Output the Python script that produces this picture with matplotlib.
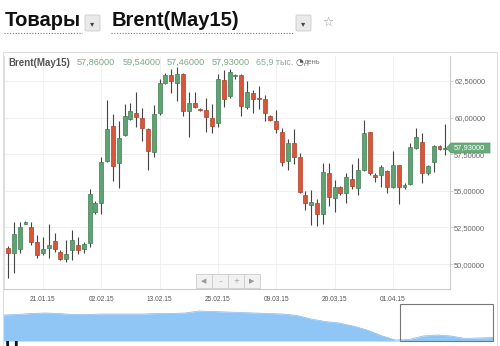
import matplotlib
matplotlib.use("Agg")
import matplotlib.pyplot as plt
from matplotlib.patches import Rectangle, Polygon, FancyBboxPatch
from matplotlib.lines import Line2D

plt.rcParams['font.family'] = ['Liberation Sans', 'DejaVu Sans']

# ---- data ----
opens  = [51.10, 50.76, 51.03, 52.74, 52.53, 51.51, 50.79, 51.10, 51.58, 50.83,
          50.35, 50.96, 51.31, 51.03, 51.44, 53.56, 54.17, 57.04, 59.43, 56.90,
          58.81, 59.91, 60.32, 59.97, 59.22, 57.65, 60.32, 62.36, 62.91, 62.36,
          62.98, 60.45, 61.00, 60.62, 60.52, 59.97, 59.63, 62.57, 61.48, 62.85,
          62.91, 60.73, 61.68, 61.27, 61.27, 60.11, 59.77, 59.02, 57.04, 58.27,
          57.31, 54.72, 54.04, 54.17, 53.42, 56.22, 54.51, 55.26, 54.85, 55.81,
          55.20, 56.42, 59.02, 56.06, 56.08, 56.36, 55.26, 56.77, 55.26, 55.47,
          57.93, 58.34, 56.22, 56.97, 58.06, 57.86]
highs  = [51.25, 52.88, 52.88, 52.92, 52.88, 51.99, 51.85, 52.74, 52.12, 50.96,
          51.65, 52.33, 51.85, 51.51, 55.13, 54.31, 57.31, 61.20, 60.25, 59.77,
          60.93, 61.00, 61.75, 60.66, 59.30, 60.86, 62.64, 63.05, 63.32, 63.46,
          63.05, 61.75, 61.75, 60.66, 61.34, 60.93, 62.98, 63.25, 63.32, 62.98,
          62.95, 62.50, 61.89, 62.16, 61.54, 60.18, 60.52, 59.29, 58.54, 59.22,
          57.59, 54.99, 55.06, 54.45, 56.90, 56.90, 55.74, 55.33, 56.22, 56.83,
          57.24, 59.84, 59.05, 56.22, 56.77, 56.40, 57.72, 56.80, 55.54, 58.27,
          59.29, 58.95, 56.75, 58.13, 58.10, 59.54]
lows   = [49.05, 49.39, 50.76, 52.72, 51.31, 50.42, 50.62, 50.42, 50.83, 50.28,
          50.14, 50.28, 50.69, 50.79, 51.17, 53.42, 53.42, 56.97, 55.67, 55.20,
          58.75, 59.85, 59.36, 58.40, 56.42, 57.31, 60.18, 62.30, 61.68, 61.13,
          60.11, 58.68, 60.66, 60.45, 59.02, 58.95, 59.36, 60.73, 61.34, 62.64,
          60.11, 60.59, 60.32, 60.59, 59.77, 59.77, 58.95, 56.70, 56.42, 56.83,
          54.85, 53.69, 52.67, 52.60, 52.74, 53.97, 53.56, 54.72, 54.17, 55.13,
          54.72, 56.36, 56.08, 55.61, 55.26, 54.85, 55.20, 54.10, 55.13, 55.40,
          57.86, 55.54, 56.08, 56.29, 57.80, 57.46]
closes = [50.76, 52.06, 52.53, 52.88, 51.51, 50.62, 51.03, 51.31, 51.03, 50.35,
          50.69, 51.65, 50.96, 51.37, 54.79, 54.17, 56.97, 59.22, 56.70, 58.61,
          60.11, 60.45, 60.04, 59.29, 57.72, 60.25, 62.36, 62.91, 62.50, 62.98,
          60.45, 61.00, 60.73, 60.55, 60.04, 59.43, 62.64, 61.27, 63.11, 62.91,
          60.79, 61.75, 61.27, 61.25, 60.32, 59.84, 59.22, 56.97, 58.27, 57.31,
          54.92, 54.17, 54.24, 53.42, 56.29, 54.58, 55.26, 54.85, 55.95, 55.33,
          56.42, 58.95, 56.22, 55.98, 56.63, 55.26, 56.77, 55.26, 55.40, 58.00,
          58.68, 56.22, 56.70, 58.06, 57.86, 57.93]

date_labels = ['21.01.15', '02.02.15', '13.02.15', '25.02.15', '09.03.15', '20.03.15', '01.04.15']
date_tick_idx = [6, 16, 26, 36, 46, 56, 66]
price_ticks = [50.0, 52.5, 55.0, 57.5, 60.0, 62.5]
last_price = 57.93
header_values = ['57,86000', '59,54000', '57,46000', '57,93000']
header_volume = '65,9 тыс.'

# navigator (overview) series, read from the strip at the bottom
nav_values = [26, 26.5, 27.5, 28, 27.5, 26.5, 26.5, 27, 27, 27, 27, 27.5, 27.5, 28,
              30, 29.5, 29, 28.5, 28, 27.5, 27, 25.5, 22, 19.5, 18, 15, 11, 5.5,
              1, 1.5, 5, 6, 5, 2.5, 3, 3.5]

# ---- figure ----
W, H = 500, 346
fig = plt.figure(figsize=(5.0, 3.46), dpi=100)
fig.patch.set_facecolor('white')

def fx(x):
    return x / W

def fy(y):
    return 1 - y / H

GREEN = '#5fa273'
GREEN_E = '#3f7d52'
RED = '#d8573b'
RED_E = '#a9422b'

# Title row
fig.text(fx(5), fy(21), 'Товары', fontsize=14.5, fontweight='bold', color='#111111', va='center', ha='left')
fig.text(fx(112), fy(21), 'Brent(May15)', fontsize=14.5, fontweight='bold', color='#111111', va='center', ha='left')
for x0, x1 in [(4, 82), (111, 293)]:
    fig.add_artist(Line2D([fx(x0), fx(x1)], [fy(33), fy(33)], transform=fig.transFigure,
                          color='#777777', lw=0.8, linestyle=(0, (1, 1.5))))
for bx in [85, 296]:
    fig.add_artist(FancyBboxPatch((fx(bx), fy(31)), 15 / W, 16 / H, boxstyle='round,pad=0,rounding_size=0.003',
                                  transform=fig.transFigure, facecolor='#e9e9e9', edgecolor='#cccccc', lw=0.6))
    fig.text(fx(bx + 7.5), fy(23.5), '▾', fontsize=6, color='#444444', ha='center', va='center',
             family=['DejaVu Sans'])
fig.text(fx(328), fy(22), '☆', fontsize=9, color='#999999', ha='center', va='center', family=['DejaVu Sans'])

# Panel border
fig.add_artist(Rectangle((fx(3), fy(350)), 494 / W, 298 / H, transform=fig.transFigure,
                         fill=False, edgecolor='#dddddd', lw=0.8))

# Main axes
ax = fig.add_axes([fx(4), fy(289), 446 / W, 233 / H])
n = len(opens)
idx = list(range(n))
colors = [GREEN if c >= o else RED for o, c in zip(opens, closes)]
edges = [GREEN_E if c >= o else RED_E for o, c in zip(opens, closes)]
ax.vlines(idx, lows, highs, color='#444444', lw=0.8, zorder=2)
bottoms = [min(o, c) for o, c in zip(opens, closes)]
heights = [max(abs(c - o), 0.07) for o, c in zip(opens, closes)]
ax.bar(idx, heights, bottom=bottoms, width=0.68, color=colors, edgecolor=edges, lw=0.5, zorder=3)

ax.set_xlim(-0.686, 75.8)
ax.set_ylim(48.30, 64.21)
ax.set_xticks(date_tick_idx)
ax.set_xticklabels(date_labels)
ax.set_yticks(price_ticks)
ax.set_yticklabels([f'{v:.5f}'.replace('.', ',') for v in price_ticks])
ax.yaxis.tick_right()
ax.tick_params(axis='y', length=2.5, width=0.6, color='#cccccc', labelsize=5.4, labelcolor='#666666', pad=0.5)
ax.tick_params(axis='x', length=0, labelsize=4.8, labelcolor='#555555', pad=5)
ax.grid(True, color='#eeeeee', lw=0.6, zorder=0)
ax.set_axisbelow(True)
ax.spines['top'].set_visible(False)
ax.spines['left'].set_color('#dddddd')
ax.spines['right'].set_color('#cccccc')
ax.spines['bottom'].set_color('#cccccc')
for s in ['left', 'right', 'bottom']:
    ax.spines[s].set_linewidth(0.8)

# Header inside the chart
fig.text(fx(8), fy(62.5), 'Brent(May15)', fontsize=7, fontweight='bold', color='#555555', va='center')
for xh, val in zip([77, 123, 167, 212], header_values):
    fig.text(fx(xh), fy(62.5), val, fontsize=6.6, color='#7aa88a', va='center')
fig.text(fx(256), fy(62.5), header_volume, fontsize=6.4, color='#8aa898', va='center')
fig.text(fx(296), fy(62.5), '◔', fontsize=6.5, color='#555555', va='center', family=['DejaVu Sans'])
fig.text(fx(304), fy(63), 'день', fontsize=5.4, color='#777777', va='center')

# Last price tag
tag = Polygon([(fx(446.5), fy(148)), (fx(451), fy(143)), (fx(490), fy(143)), (fx(490), fy(153)), (fx(451), fy(153))],
              closed=True, transform=fig.transFigure, facecolor='#6aab7e', edgecolor='#5a9a6d', lw=0.5, zorder=10)
fig.add_artist(tag)
fig.text(fx(454), fy(148), f'{last_price:.5f}'.replace('.', ','), fontsize=5.4, color='white', va='center', zorder=11)

# Navigation buttons
labels_nav = ['◀', '–', '+', '▶']
for k, g in enumerate(labels_nav):
    x0 = 196 + 16 * k
    fig.add_artist(Rectangle((fx(x0), fy(288)), 16 / W, 14 / H, transform=fig.transFigure,
                             facecolor='#f1f1f1', edgecolor='#cccccc', lw=0.6))
    fig.text(fx(x0 + 8), fy(281), g, fontsize=5, color='#999999', ha='center', va='center',
             family=['DejaVu Sans'])

# Navigator
axn = fig.add_axes([fx(3), fy(341), 490 / W, 38 / H])
nx = list(range(len(nav_values)))
axn.fill_between(nx, nav_values, 0, color='#8fc6f5', lw=0)
axn.plot(nx, nav_values, color='#7fb9ee', lw=0.5)
axn.set_xlim(0, len(nav_values) - 1)
axn.set_ylim(0, 38)
axn.axis('off')
fig.add_artist(Rectangle((fx(400), fy(341)), 93 / W, 37 / H, transform=fig.transFigure,
                         fill=False, edgecolor='#777777', lw=0.8))

# text cut off by the bottom edge, as in the reference
fig.text(fx(5), fy(341), 'Н', fontsize=14, fontweight='bold', color='#111111', va='top', ha='left')

fig.savefig('out.png', dpi=100)
